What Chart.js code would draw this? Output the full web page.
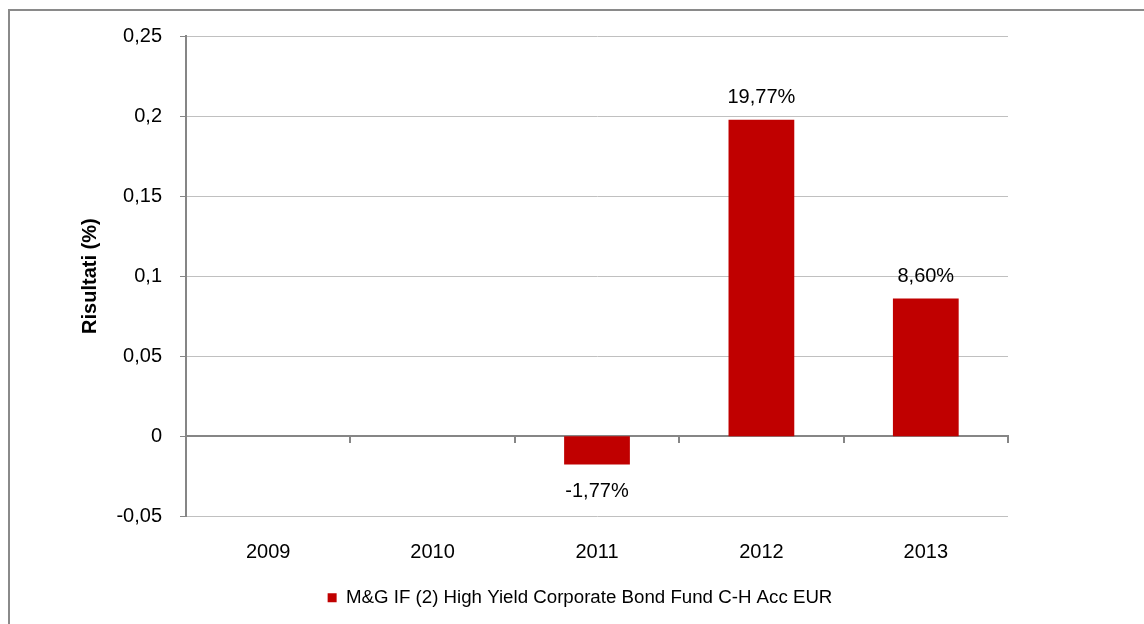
<!DOCTYPE html>
<html>
<head>
<meta charset="utf-8">
<title>Risultati</title>
<script src="https://cdn.jsdelivr.net/npm/chart.js@4/dist/chart.umd.min.js"></script>
<style>
    html, body { margin: 0; padding: 0; background: #fff; overflow: hidden; }
    #frame {
        position: absolute; left: 8px; top: 9px;
        width: 1200px; height: 700px;
        border: 2px solid #8a8a8a;
    }
    #chart { position: absolute; left: 0; top: 0; }
</style>
</head>
<body>
<div id="frame"></div>
<canvas id="chart" width="1144" height="624"></canvas>
<script>
// Data
const years = ["2009", "2010", "2011", "2012", "2013"];
const fundReturns = [null, null, -0.0177, 0.1977, 0.086];
const seriesName = "M&G IF (2) High Yield Corporate Bond Fund C-H Acc EUR";
const yMin = -0.05;
const yMax = 0.25;
const yStep = 0.05;

Chart.defaults.font.family = '"Liberation Sans", Arial, sans-serif';
Chart.defaults.font.size = 20;
Chart.defaults.color = "#000";

const commaNum = v => String(Math.round(v * 100) / 100).replace(".", ",");
const pctLabel = v => (v * 100).toFixed(2).replace(".", ",") + "%";

// Value labels above / below bars
const barLabels = {
    id: "barLabels",
    afterDatasetsDraw(chart) {
        const ctx = chart.ctx;
        const meta = chart.getDatasetMeta(0);
        ctx.save();
        ctx.font = '20px "Liberation Sans", Arial, sans-serif';
        ctx.fillStyle = "#000";
        ctx.textAlign = "center";
        ctx.textBaseline = "middle";
        meta.data.forEach((bar, i) => {
            const v = fundReturns[i];
            if (v === null) return;
            const y = v >= 0 ? bar.y - 22 : bar.y + 27;
            ctx.fillText(pctLabel(v), bar.x, y);
        });
        ctx.restore();
    }
};

new Chart(document.getElementById("chart"), {
    type: "bar",
    data: {
        labels: years,
        datasets: [{
            label: seriesName,
            data: fundReturns,
            backgroundColor: "#c00000",
            borderWidth: 0,
            barPercentage: 0.4,
            categoryPercentage: 1.0,
            xAxisID: "x",
            yAxisID: "y"
        }]
    },
    options: {
        responsive: false,
        animation: false,
        devicePixelRatio: 1,
        layout: { padding: { left: 16, right: 0, top: 36, bottom: 7 } },
        plugins: {
            tooltip: { enabled: false },
            legend: {
                position: "bottom",
                labels: {
                    boxWidth: 9,
                    boxHeight: 9,
                    padding: 10,
                    font: { size: 18.7 },
                    color: "#000"
                }
            }
        },
        scales: {
            x: {
                type: "category",
                position: "bottom",
                offset: true,
                grid: { display: false, drawTicks: false, offset: true },
                border: { display: false },
                ticks: { padding: 24, font: { size: 20 }, color: "#000" },
                afterFit: s => { s.height = 62; }
            },
            x2: {
                type: "category",
                position: { y: 0 },
                offset: true,
                grid: {
                    offset: true,
                    drawOnChartArea: false,
                    drawTicks: true,
                    tickLength: 6,
                    color: "#868686",
                    lineWidth: 2
                },
                border: { display: true, color: "#868686", width: 2 },
                ticks: { display: false }
            },
            y: {
                type: "linear",
                position: "left",
                min: yMin,
                max: yMax,
                ticks: {
                    stepSize: yStep,
                    padding: 18,
                    font: { size: 20 },
                    color: "#000",
                    callback: v => commaNum(v)
                },
                grid: {
                    color: "#c0c0c0",
                    lineWidth: 1,
                    tickLength: 6,
                    tickColor: "#868686"
                },
                border: { display: true, color: "#868686", width: 2 },
                title: {
                    display: true,
                    text: "Risultati (%)",
                    font: { size: 20, weight: "bold" },
                    color: "#000",
                    padding: { top: 62, bottom: 0 }
                },
                afterFit: s => { s.width = 170; }
            },
            y2: {
                type: "linear",
                position: "right",
                display: true,
                grid: { display: false },
                border: { display: false },
                ticks: { display: false },
                afterFit: s => { s.width = 136; }
            }
        }
    },
    plugins: [barLabels]
});
</script>
</body>
</html>
